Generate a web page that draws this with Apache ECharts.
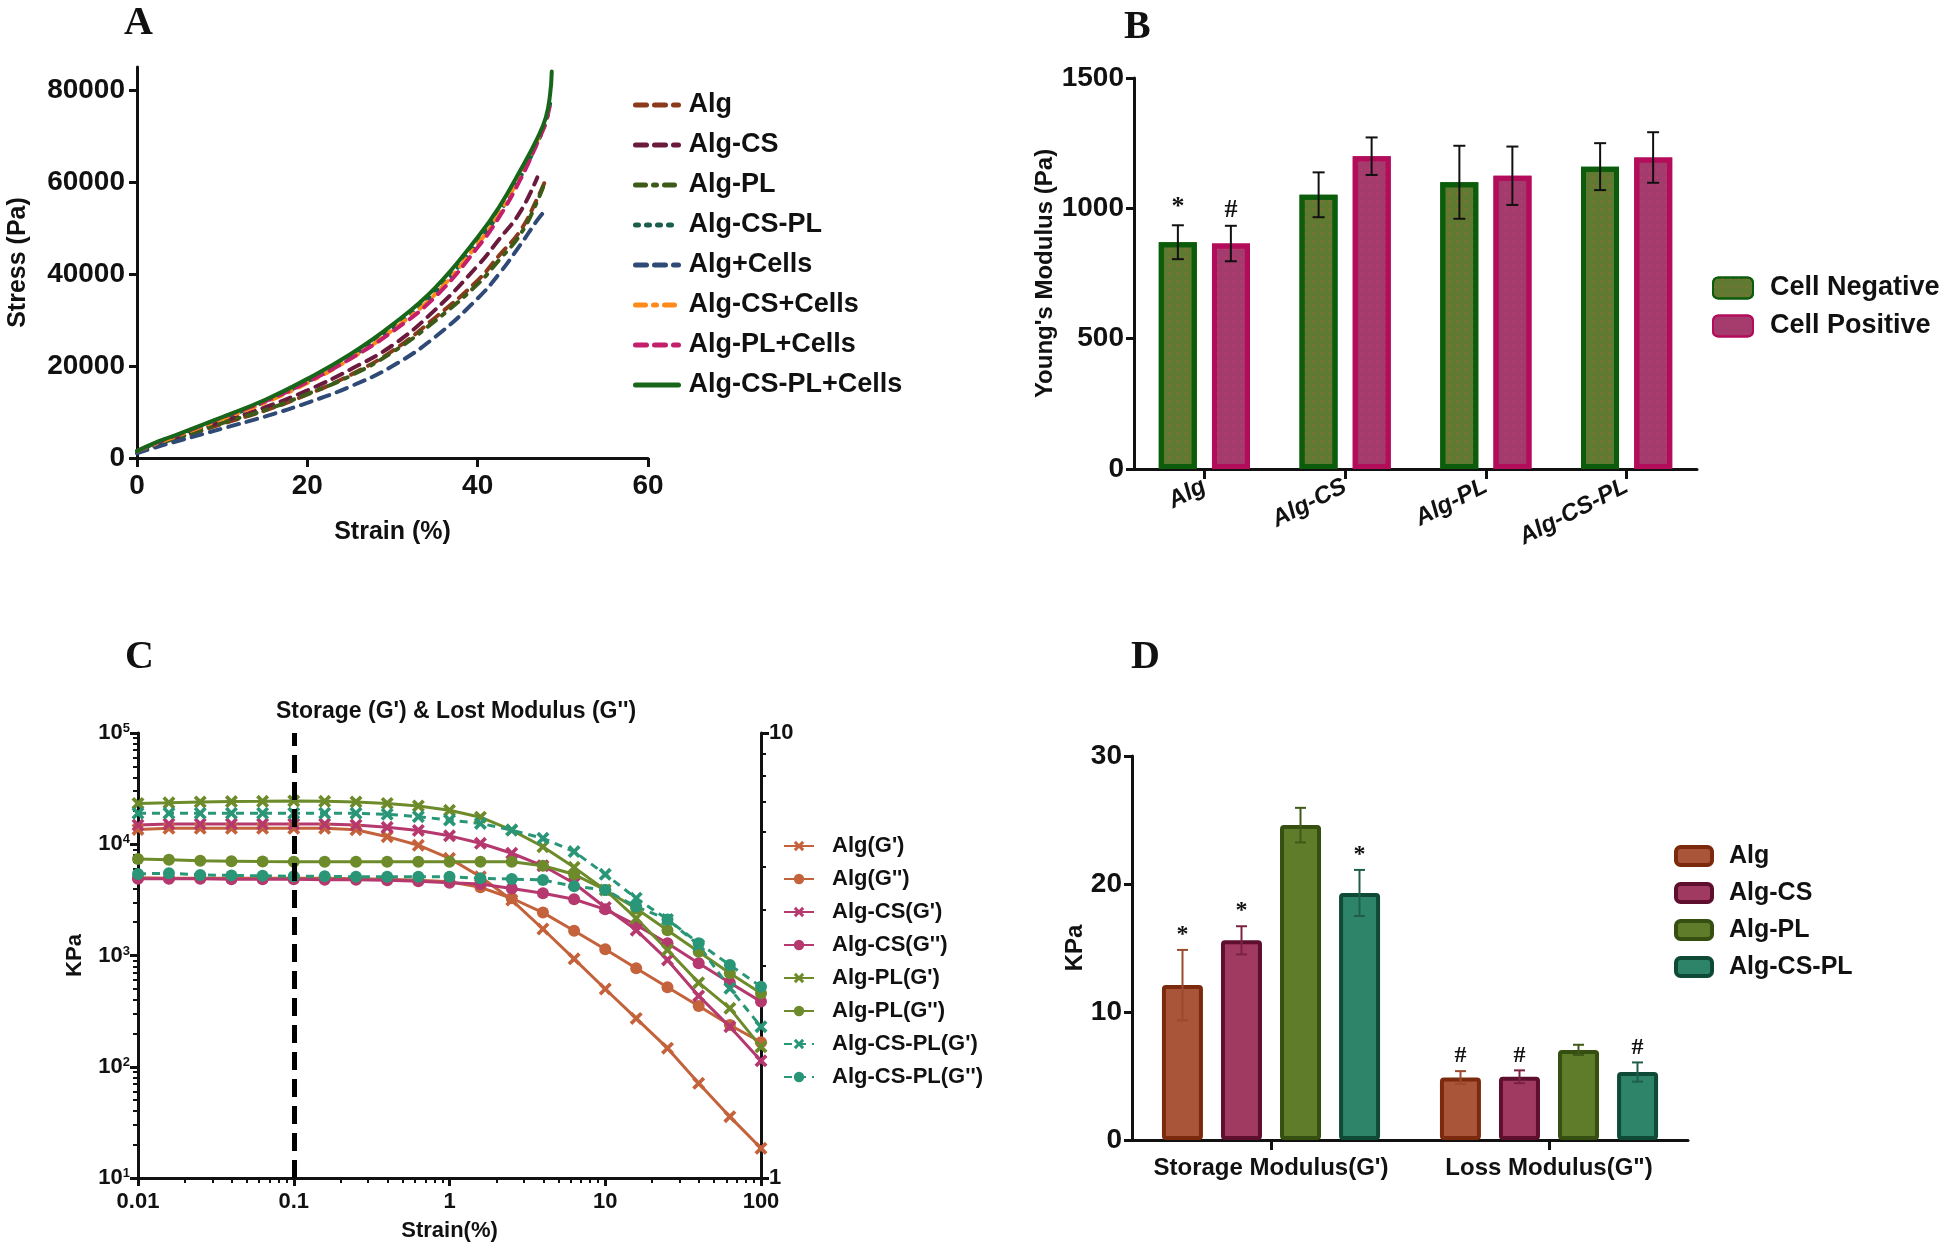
<!DOCTYPE html>
<html><head><meta charset="utf-8">
<script src="https://cdn.jsdelivr.net/npm/echarts@6/dist/echarts.min.js"></script>
<style>html,body{margin:0;padding:0;background:#fff}#c{width:1946px;height:1250px}</style>
</head><body><div id="c"></div>
<script>
// ================= Panel A : stress-strain =================
const strainA = [0, 2.5, 5, 10, 15, 20, 25, 30, 35, 40, 42.5, 45, 47, 48, 48.5, 48.7];
const stressAlg        = [1200, 2900, 4400, 7400, 10300, 13800, 18000, 23300, 30500, 38600, 44000, 49400, 56400, 60600, null, null];
const stressAlgCS      = [1300, 3100, 4700, 7900, 11000, 14700, 19200, 24500, 32200, 41800, 47500, 53500, 61000, null, null, null];
const stressAlgPL      = [1200, 3000, 4500, 7600, 10400, 13900, 17800, 23000, 29800, 37800, 43000, 48600, 55800, 60600, null, null];
const stressAlgCSPL    = [1500, 3400, 5100, 8600, 12200, 16600, 21800, 28200, 36000, 46800, 53200, 61000, 68500, 73000, 77000, null];
const stressAlgCells   = [1000, 2500, 3800, 6400, 9000, 12000, 15500, 20000, 26300, 34700, 40000, 46300, 51700, 54000, null, null];
const stressAlgCSCells = [1500, 3300, 5000, 8500, 12000, 16300, 21500, 27800, 35600, 46500, 53000, 61500, 69000, 73500, 77500, null];
const stressAlgPLCells = [1500, 3500, 5200, 8800, 12300, 16500, 21500, 27500, 35000, 45800, 52300, 60500, 68500, 73000, 77000, null];
const stressAlgCSPLCells = [1500, 3600, 5300, 8900, 12600, 17200, 22500, 29000, 37000, 48000, 54500, 62500, 69500, 74000, 79000, 84000];
const namesA = ['Alg','Alg-CS','Alg-PL','Alg-CS-PL','Alg+Cells','Alg-CS+Cells','Alg-PL+Cells','Alg-CS-PL+Cells'];
const ticksAy = [0, 20000, 40000, 60000, 80000];
const ticksAx = [0, 20, 40, 60];

// ================= Panel B : Young's modulus =================
const catsB = ['Alg','Alg-CS','Alg-PL','Alg-CS-PL'];
const youngNeg = [870, 1052, 1100, 1160];
const youngNegErr = [65, 86, 140, 90];
const youngPos = [865, 1200, 1125, 1195];
const youngPosErr = [68, 72, 112, 97];
const annotNeg = ['*', '', '', ''];
const annotPos = ['#', '', '', ''];
const ticksBy = [0, 500, 1000, 1500];

// ================= Panel C : amplitude sweep =================
const strainC = [0.01, 0.0158, 0.0251, 0.0398, 0.0631, 0.1, 0.158, 0.251, 0.398, 0.631, 1, 1.58, 2.51, 3.98, 6.31, 10, 15.8, 25.1, 39.8, 63.1, 100];
const algG1   = [13600, 13900, 13900, 13900, 13900, 13900, 13900, 13500, 11700, 9800, 7470, 5100, 3150, 1730, 933, 500, 272, 147, 71, 35.6, 18.5];
const algG2   = [5000, 4950, 4950, 4950, 4950, 4950, 4950, 4900, 4850, 4750, 4600, 4100, 3270, 2430, 1670, 1140, 767, 518, 352, 237, 166];
const csG1    = [14900, 15200, 15200, 15200, 15200, 15200, 15200, 14900, 14200, 13300, 11900, 10200, 8300, 6400, 4460, 2700, 1690, 912, 433, 229, 113];
const csG2    = [4900, 4900, 4900, 4850, 4850, 4850, 4800, 4800, 4750, 4650, 4500, 4400, 4000, 3620, 3200, 2600, 1880, 1290, 851, 570, 385];
const plG1    = [23300, 23600, 24000, 24200, 24300, 24500, 24300, 24000, 23300, 22100, 20200, 17500, 13400, 9500, 6200, 3880, 2160, 1120, 570, 335, 151];
const plG2    = [7370, 7250, 7100, 7050, 7000, 6970, 6970, 6970, 6970, 6970, 6970, 6970, 6970, 6400, 5370, 3880, 2650, 1690, 1080, 692, 457];
const csplG1  = [19000, 19000, 19000, 19000, 19000, 19000, 19000, 19000, 18600, 17700, 16500, 15400, 13400, 11300, 8600, 5370, 3270, 2110, 1240, 507, 229];
const csplG2  = [5400, 5500, 5300, 5250, 5200, 5150, 5150, 5100, 5100, 5100, 5100, 4940, 4870, 4770, 4200, 3880, 2750, 2110, 1290, 822, 525];
const namesC = ["Alg(G')", "Alg(G'')", "Alg-CS(G')", "Alg-CS(G'')", "Alg-PL(G')", "Alg-PL(G'')", "Alg-CS-PL(G')", "Alg-CS-PL(G'')"];
const xTickLabelsC = ['0.01', '0.1', '1', '10', '100'];
const markerStrain = [0.1];

// ================= Panel D : G' and G'' =================
const catsD = ["Storage Modulus(G')", 'Loss Modulus(G")'];
const namesD = ['Alg','Alg-CS','Alg-PL','Alg-CS-PL'];
const modAlg = [12.1, 4.88];   const modAlgErr = [2.75, 0.5];
const modCS = [15.6, 4.94];    const modCSErr = [1.1, 0.5];
const modPL = [24.6, 7.04];    const modPLErr = [1.35, 0.4];
const modCSPL = [19.3, 5.31];  const modCSPLErr = [1.8, 0.75];
const annotAlg = ['*', '#'];
const annotCS = ['*', '#'];
const annotPL = ['', ''];
const annotCSPL = ['*', '#'];
const ticksDy = [0, 10, 20, 30];

// ================= styling =================
const F = '"Liberation Sans", Arial, sans-serif';
const FN = '"Liberation Sans Narrow", "Liberation Sans", Arial, sans-serif';
const FS = '"Liberation Serif", "Times New Roman", serif';
const AX = '#111';
const plain = v => String(v);

function axisCommon(extra) {
  return Object.assign({
    axisLine: {show: true, lineStyle: {color: AX, width: 3}},
    axisTick: {show: true, inside: false, length: 8, lineStyle: {color: AX, width: 3}},
    splitLine: {show: false},
  }, extra);
}

const colorsA = ['#8b3a1b', '#6a1a3c', '#3c5a18', '#1b5e4c', '#2f4a77', '#ff8a1c', '#c3206b', '#17661a'];
const dashA = [[11, 8], [11, 8], [10, 8, 3, 8], [3, 8], [11, 8], [10, 8, 3, 8], [11, 8], 'solid'];
const dataA = [stressAlg, stressAlgCS, stressAlgPL, stressAlgCSPL, stressAlgCells, stressAlgCSCells, stressAlgPLCells, stressAlgCSPLCells];

const series = [];
namesA.forEach((n, k) => {
  series.push({
    type: 'line', name: n, xAxisIndex: 0, yAxisIndex: 0, smooth: 0.45, symbol: 'none',
    data: strainA.map((x, i) => [x, dataA[k][i]]).filter(p => p[1] != null),
    lineStyle: {color: colorsA[k], width: 4, type: dashA[k], cap: 'round'},
    itemStyle: {color: colorsA[k]}, z: 2 + k
  });
});

// error bar builder (drawn through axis coordinates)
function errSeries(xi, yi, vals, errs, annots, idx, n, bw, gap, color, capW, lw, afont, aoff) {
  return {
    type: 'custom', xAxisIndex: xi, yAxisIndex: yi, z: 10, silent: true,
    data: vals.map((v, i) => [i, v, errs[i]]),
    renderItem: function (params, api) {
      const i = api.value(0), v = api.value(1), e = api.value(2);
      const c = api.coord([i, v]);
      const x = c[0] + (idx - (n - 1) / 2) * (bw + gap);
      const yt = api.coord([i, v + e])[1], yb = api.coord([i, v - e])[1];
      const st = {stroke: color, lineWidth: lw};
      const ch = [
        {type: 'line', shape: {x1: x, y1: yt, x2: x, y2: yb}, style: st},
        {type: 'line', shape: {x1: x - capW / 2, y1: yt, x2: x + capW / 2, y2: yt}, style: st},
        {type: 'line', shape: {x1: x - capW / 2, y1: yb, x2: x + capW / 2, y2: yb}, style: st}
      ];
      const a = annots[params.dataIndex];
      if (a) ch.push({type: 'text', x: x, y: yt - aoff, style: {text: a, fill: '#111', font: afont, align: 'center', verticalAlign: 'bottom'}});
      return {type: 'group', children: ch};
    }
  };
}

// Panel B bars
const bwB = 38, gapB = 15;
const bStyles = [
  {fill: '#617a31', border: '#0b5c0b', dot: '#c8584a'},
  {fill: '#a33b6c', border: '#b30c5b', dot: '#d83a7c'}
];
[['Cell Negative', youngNeg], ['Cell Positive', youngPos]].forEach((p, k) => {
  series.push({
    type: 'bar', name: p[0], xAxisIndex: 1, yAxisIndex: 1, data: p[1], barWidth: bwB, barGap: '40%',
    itemStyle: {color: bStyles[k].fill, borderColor: bStyles[k].border, borderWidth: 5,
      decal: {symbol: 'circle', symbolSize: 0.5, color: bStyles[k].dot, dashArrayX: [3, 5], dashArrayY: [3, 5]}}
  });
});
series.push(errSeries(1, 1, youngNeg, youngNegErr, annotNeg, 0, 2, bwB, gapB, '#111', 12, 2, 'bold 26px ' + FS, 5));
series.push(errSeries(1, 1, youngPos, youngPosErr, annotPos, 1, 2, bwB, gapB, '#111', 12, 2, 'bold 26px ' + FS, 3));

// Panel C lines
const colorsC = ['#c4623c', '#c4623c', '#b5386e', '#b5386e', '#6d8b2a', '#6d8b2a', '#2a9678', '#2a9678'];
const dataC = [algG1, algG2, csG1, csG2, plG1, plG2, csplG1, csplG2];
const crossPath = 'path://M2,0 L5,3 L8,0 L10,2 L7,5 L10,8 L8,10 L5,7 L2,10 L0,8 L3,5 L0,2 Z';
namesC.forEach((n, k) => {
  const isG1 = k % 2 === 0;
  const s = {
    type: 'line', name: n, xAxisIndex: 2, yAxisIndex: 2,
    data: strainC.map((x, i) => [x, dataC[k][i]]),
    symbol: isG1 ? crossPath : 'circle', symbolSize: isG1 ? 13 : 12, showSymbol: true,
    lineStyle: {color: colorsC[k], width: 3, type: k >= 6 ? [8, 6] : 'solid'},
    itemStyle: {color: colorsC[k]}, z: 3
  };
  if (k === 0) {
    s.markLine = {silent: true, symbol: ['none', 'none'], label: {show: false},
      lineStyle: {color: '#000', width: 5, type: [18, 9]},
      data: markerStrain.map(v => ({xAxis: v}))};
  }
  series.push(s);
});

// Panel D bars
const dStyles = [
  {fill: '#a8553a', border: '#7b2a0e', err: '#9a4a2e'},
  {fill: '#a03a60', border: '#5e0f2e', err: '#7a2244'},
  {fill: '#5f7c2b', border: '#344f10', err: '#3f5a18'},
  {fill: '#2e8468', border: '#0f4a37', err: '#1e5e4a'}
];
const dataD = [modAlg, modCS, modPL, modCSPL];
const errD = [modAlgErr, modCSErr, modPLErr, modCSPLErr];
const annD = [annotAlg, annotCS, annotPL, annotCSPL];
const bwD = 41, gapD = 18;
namesD.forEach((n, k) => {
  series.push({
    type: 'bar', name: n, xAxisIndex: 3, yAxisIndex: 4, data: dataD[k], barWidth: bwD, barGap: '44%',
    itemStyle: {color: dStyles[k].fill, borderColor: dStyles[k].border, borderWidth: 4, borderRadius: 2}
  });
});
namesD.forEach((n, k) => {
  series.push(errSeries(3, 4, dataD[k], errD[k], annD[k], k, 4, bwD, gapD, dStyles[k].err, 11, 2, 'bold 24px ' + FS, 3));
});

const option = {
  animation: false,
  backgroundColor: '#fff',
  textStyle: {fontFamily: F},
  grid: [
    {left: 137, top: 67, width: 511, height: 391},
    {left: 1134, top: 78, width: 563, height: 391},
    {left: 138, top: 733, width: 623, height: 445},
    {left: 1132, top: 756, width: 556, height: 384}
  ],
  xAxis: [
    axisCommon({type: 'value', gridIndex: 0, min: 0, max: 60, interval: 20,
      axisTick: {show: true, length: 9, lineStyle: {color: AX, width: 3}, customValues: ticksAx},
      axisLabel: {color: '#111', fontFamily: FN, fontWeight: 'bold', fontSize: 28, margin: 14, customValues: ticksAx, formatter: plain},
      name: 'Strain (%)', nameLocation: 'middle', nameGap: 62,
      nameTextStyle: {color: '#111', fontFamily: F, fontWeight: 'bold', fontSize: 25}}),
    axisCommon({type: 'category', gridIndex: 1, data: catsB, boundaryGap: true,
      axisTick: {show: true, alignWithLabel: true, length: 10, lineStyle: {color: AX, width: 3}},
      axisLabel: {color: '#111', fontFamily: F, fontWeight: 'bold', fontStyle: 'italic', fontSize: 24, rotate: 27, margin: 16, interval: 0}}),
    axisCommon({type: 'log', gridIndex: 2, min: 0.01, max: 100, logBase: 10,
      minorTick: {show: true, splitNumber: 9, length: 5, lineStyle: {color: AX, width: 2}},
      axisLabel: {color: '#111', fontFamily: FN, fontWeight: 'bold', fontSize: 22, margin: 13,
        formatter: v => xTickLabelsC[Math.round(Math.log10(v)) + 2]},
      name: 'Strain(%)', nameLocation: 'middle', nameGap: 42,
      nameTextStyle: {color: '#111', fontFamily: FN, fontWeight: 'bold', fontSize: 22}}),
    axisCommon({type: 'category', gridIndex: 3, data: catsD, boundaryGap: true,
      axisTick: {show: true, alignWithLabel: true, length: 10, lineStyle: {color: AX, width: 3}},
      axisLabel: {color: '#111', fontFamily: FN, fontWeight: 'bold', fontSize: 24, margin: 16, interval: 0}})
  ],
  yAxis: [
    axisCommon({type: 'value', gridIndex: 0, min: 0, max: 85000, interval: 20000,
      axisTick: {show: true, length: 8, lineStyle: {color: AX, width: 3}, customValues: ticksAy},
      axisLabel: {color: '#111', fontFamily: FN, fontWeight: 'bold', fontSize: 28, margin: 12, customValues: ticksAy, formatter: plain},
      name: 'Stress (Pa)', nameLocation: 'middle', nameGap: 106, nameRotate: 90,
      nameTextStyle: {color: '#111', fontFamily: F, fontWeight: 'bold', fontSize: 25}}),
    axisCommon({type: 'value', gridIndex: 1, min: 0, max: 1500, interval: 500,
      axisTick: {show: true, length: 8, lineStyle: {color: AX, width: 3}, customValues: ticksBy},
      axisLabel: {color: '#111', fontFamily: FN, fontWeight: 'bold', fontSize: 28, margin: 10, customValues: ticksBy, formatter: plain},
      name: "Young's Modulus (Pa)", nameLocation: 'middle', nameGap: 76, nameRotate: 90,
      nameTextStyle: {color: '#111', fontFamily: F, fontWeight: 'bold', fontSize: 24}}),
    axisCommon({type: 'log', gridIndex: 2, min: 10, max: 100000, logBase: 10,
      minorTick: {show: true, splitNumber: 9, length: 5, lineStyle: {color: AX, width: 2}},
      axisLabel: {color: '#111', margin: 8,
        formatter: v => '{b|10}{s|' + Math.round(Math.log10(v)) + '}',
        rich: {b: {fontFamily: FN, fontWeight: 'bold', fontSize: 22, verticalAlign: 'bottom', color: '#111'},
               s: {fontFamily: FN, fontWeight: 'bold', fontSize: 13, verticalAlign: 'top', color: '#111'}}},
      name: 'KPa', nameLocation: 'middle', nameGap: 52, nameRotate: 90,
      nameTextStyle: {color: '#111', fontFamily: F, fontWeight: 'bold', fontSize: 22}}),
    axisCommon({type: 'log', gridIndex: 2, position: 'right', min: 1, max: 10, logBase: 10,
      minorTick: {show: true, splitNumber: 9, length: 5, lineStyle: {color: AX, width: 2}},
      axisLabel: {color: '#111', fontFamily: FN, fontWeight: 'bold', fontSize: 22, margin: 8, formatter: plain}}),
    axisCommon({type: 'value', gridIndex: 3, min: 0, max: 30, interval: 10,
      axisTick: {show: true, length: 8, lineStyle: {color: AX, width: 3}, customValues: ticksDy},
      axisLabel: {color: '#111', fontFamily: FN, fontWeight: 'bold', fontSize: 28, margin: 10, customValues: ticksDy, formatter: plain},
      name: 'KPa', nameLocation: 'middle', nameGap: 40, nameRotate: 90,
      nameTextStyle: {color: '#111', fontFamily: F, fontWeight: 'bold', fontSize: 24}})
  ],
  legend: [
    {orient: 'vertical', left: 633, top: 91, padding: 0, itemWidth: 43, itemHeight: 14, itemGap: 12, selectedMode: false,
      itemStyle: {opacity: 0}, lineStyle: {width: 5},
      data: namesA, textStyle: {color: '#111', fontFamily: F, fontWeight: 'bold', fontSize: 27, lineHeight: 28, padding: [0, 0, 0, 5]}},
    {orient: 'vertical', left: 1712, top: 274, padding: 0, itemWidth: 40, itemHeight: 21, itemGap: 10, selectedMode: false,
      data: ['Cell Negative', 'Cell Positive'], icon: 'roundRect',
      textStyle: {color: '#111', fontFamily: FN, fontWeight: 'bold', fontSize: 27, lineHeight: 28, padding: [0, 0, 0, 12]}},
    {orient: 'vertical', left: 783, top: 834, padding: 0, itemWidth: 30, itemHeight: 13, itemGap: 9, selectedMode: false,
      data: namesC, textStyle: {color: '#111', fontFamily: F, fontWeight: 'bold', fontSize: 22, lineHeight: 24, padding: [0, 0, 0, 13]}},
    {orient: 'vertical', left: 1674, top: 843, padding: 0, itemWidth: 36, itemHeight: 18, itemGap: 11, selectedMode: false,
      data: namesD.map((n, k) => ({name: n, icon: 'roundRect',
        itemStyle: {color: dStyles[k].fill, borderColor: dStyles[k].border, borderWidth: 4}})),
      textStyle: {color: '#111', fontFamily: FN, fontWeight: 'bold', fontSize: 25, lineHeight: 26, padding: [0, 0, 0, 12]}}
  ],
  graphic: [
    {type: 'text', left: 124, top: 4, style: {text: 'A', font: 'bold 40px ' + FS, fill: '#111'}},
    {type: 'text', left: 1124, top: 8, style: {text: 'B', font: 'bold 40px ' + FS, fill: '#111'}},
    {type: 'text', left: 125, top: 638, style: {text: 'C', font: 'bold 40px ' + FS, fill: '#111'}},
    {type: 'text', left: 1131, top: 638, style: {text: 'D', font: 'bold 40px ' + FS, fill: '#111'}},
    {type: 'text', left: 276, top: 700, style: {text: "Storage (G') & Lost Modulus (G'')", font: 'bold 23px ' + FN, fill: '#111'}}
  ],
  series: series
};

const chart = echarts.init(document.getElementById('c'), null, {renderer: 'canvas', width: 1946, height: 1250});
chart.setOption(option);
</script>
</body></html>
